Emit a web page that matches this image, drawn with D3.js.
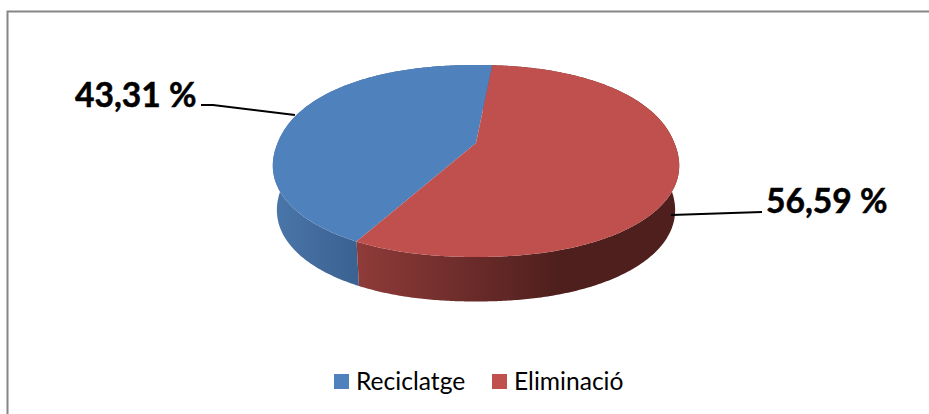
<!DOCTYPE html>
<html>
<head>
<meta charset="utf-8">
<script src="https://cdn.jsdelivr.net/npm/d3@7"></script>
<style>
  html, body { margin: 0; padding: 0; background: #fff; }
  text { font-family: Lato, "Open Sans", sans-serif; fill: #000; }
</style>
</head>
<body>
<div id="chart"></div>
<script>
const categories = ["Reciclatge", "Eliminació"];
const values = [43.31, 56.59];
const labels = ["43,31 %", "56,59 %"];
const topColors = ["#4f81bd", "#c0504d"];

const WIDTH = 929;
const HEIGHT = 414;

// perspective pie: the circle centre lands above the ellipse centre
const CX = 476;
const APEX_Y = 143;
const K = 0.1875;
const A = 198.4;
const B = 92.6;
const DEPTH = 44.5;
const BOTTOM_SCALE = 0.98;
const SQUARE = 2.15; // the rim is a little squarer than a true ellipse

function project(angle, scale, dy) {
    const s = Math.sin(angle), c = Math.cos(angle);
    const r = Math.pow(Math.pow(Math.abs(s), SQUARE) + Math.pow(Math.abs(c), SQUARE), -1 / SQUARE);
    const u = s * r, v = -c * r;
    const w = 1 - K * v;
    return [CX + scale * A * u / w, APEX_Y + dy + B * v / w];
}

function arcPoints(a0, a1, scale, dy) {
    const n = Math.ceil(Math.abs(a1 - a0) / 0.01);
    return d3.range(n + 1).map(i => project(a0 + (a1 - a0) * i / n, scale, dy));
}

const svg = d3.select("#chart").append("svg")
    .attr("width", WIDTH)
    .attr("height", HEIGHT)
    .style("display", "block");

// frame only shows on the top and left, the rest is cropped in the original
svg.append("path")
    .attr("d", `M7.5,${HEIGHT}V11.5H${WIDTH}`)
    .attr("fill", "none")
    .attr("stroke", "#868686")
    .attr("stroke-width", 2);

const defs = svg.append("defs");

function sideGradient(id, x1, x2, stops) {
    const g = defs.append("linearGradient")
        .attr("id", id)
        .attr("gradientUnits", "userSpaceOnUse")
        .attr("x1", x1).attr("x2", x2)
        .attr("y1", 0).attr("y2", 0);
    stops.forEach(s => g.append("stop").attr("offset", s[0]).attr("stop-color", s[1]));
}
sideGradient("side0", 273, 360, [[0, "#4a76a9"], [1, "#3a6190"]]);
sideGradient("side1", 357, 560, [[0, "#8f3b39"], [1, "#4e1f1d"]]);

const pie = d3.pie()
    .sort(null)
    .startAngle(209.5 * Math.PI / 180)
    .endAngle((209.5 + 360) * Math.PI / 180);
const slices = pie(values);
const line = d3.line();

// side walls first, the top faces cover whatever is behind
svg.selectAll("path.side")
    .data(slices)
    .enter().append("path")
    .attr("class", "side")
    .attr("fill", (d, i) => `url(#side${i})`)
    .attr("d", d => line(arcPoints(d.startAngle, d.endAngle, 1, 0)
        .concat(arcPoints(d.endAngle, d.startAngle, BOTTOM_SCALE, DEPTH))) + "Z");

svg.selectAll("path.top")
    .data(slices)
    .enter().append("path")
    .attr("class", "top")
    .attr("fill", (d, i) => topColors[i])
    .attr("d", d => line([[CX, APEX_Y]].concat(arcPoints(d.startAngle, d.endAngle, 1, 0))) + "Z");

// leader lines
const leaders = [
    [[201, 105], [213, 105], [295, 115]],
    [[671, 215], [762, 212]]
];
svg.selectAll("path.leader")
    .data(leaders)
    .enter().append("path")
    .attr("class", "leader")
    .attr("fill", "none")
    .attr("stroke", "#000")
    .attr("stroke-width", 2)
    .attr("d", d => line(d));

const labelPos = [[75, 107], [766, 213]];
svg.selectAll("text.label")
    .data(labels)
    .enter().append("text")
    .attr("class", "label")
    .attr("x", (d, i) => labelPos[i][0])
    .attr("y", (d, i) => labelPos[i][1])
    .attr("font-size", 33.6)
    .attr("font-weight", 700)
    .attr("stroke", "#000")
    .attr("stroke-width", 0.5)
    .text(d => d);

// legend
const legendX = [334, 492];
const legend = svg.selectAll("g.legend")
    .data(categories)
    .enter().append("g")
    .attr("class", "legend")
    .attr("transform", (d, i) => `translate(${legendX[i]},374)`);
legend.append("rect")
    .attr("width", 15).attr("height", 15)
    .attr("fill", (d, i) => topColors[i]);
legend.append("text")
    .attr("x", 22)
    .attr("y", 15.5)
    .attr("font-size", 24.6)
    .text(d => d);
</script>
</body>
</html>
